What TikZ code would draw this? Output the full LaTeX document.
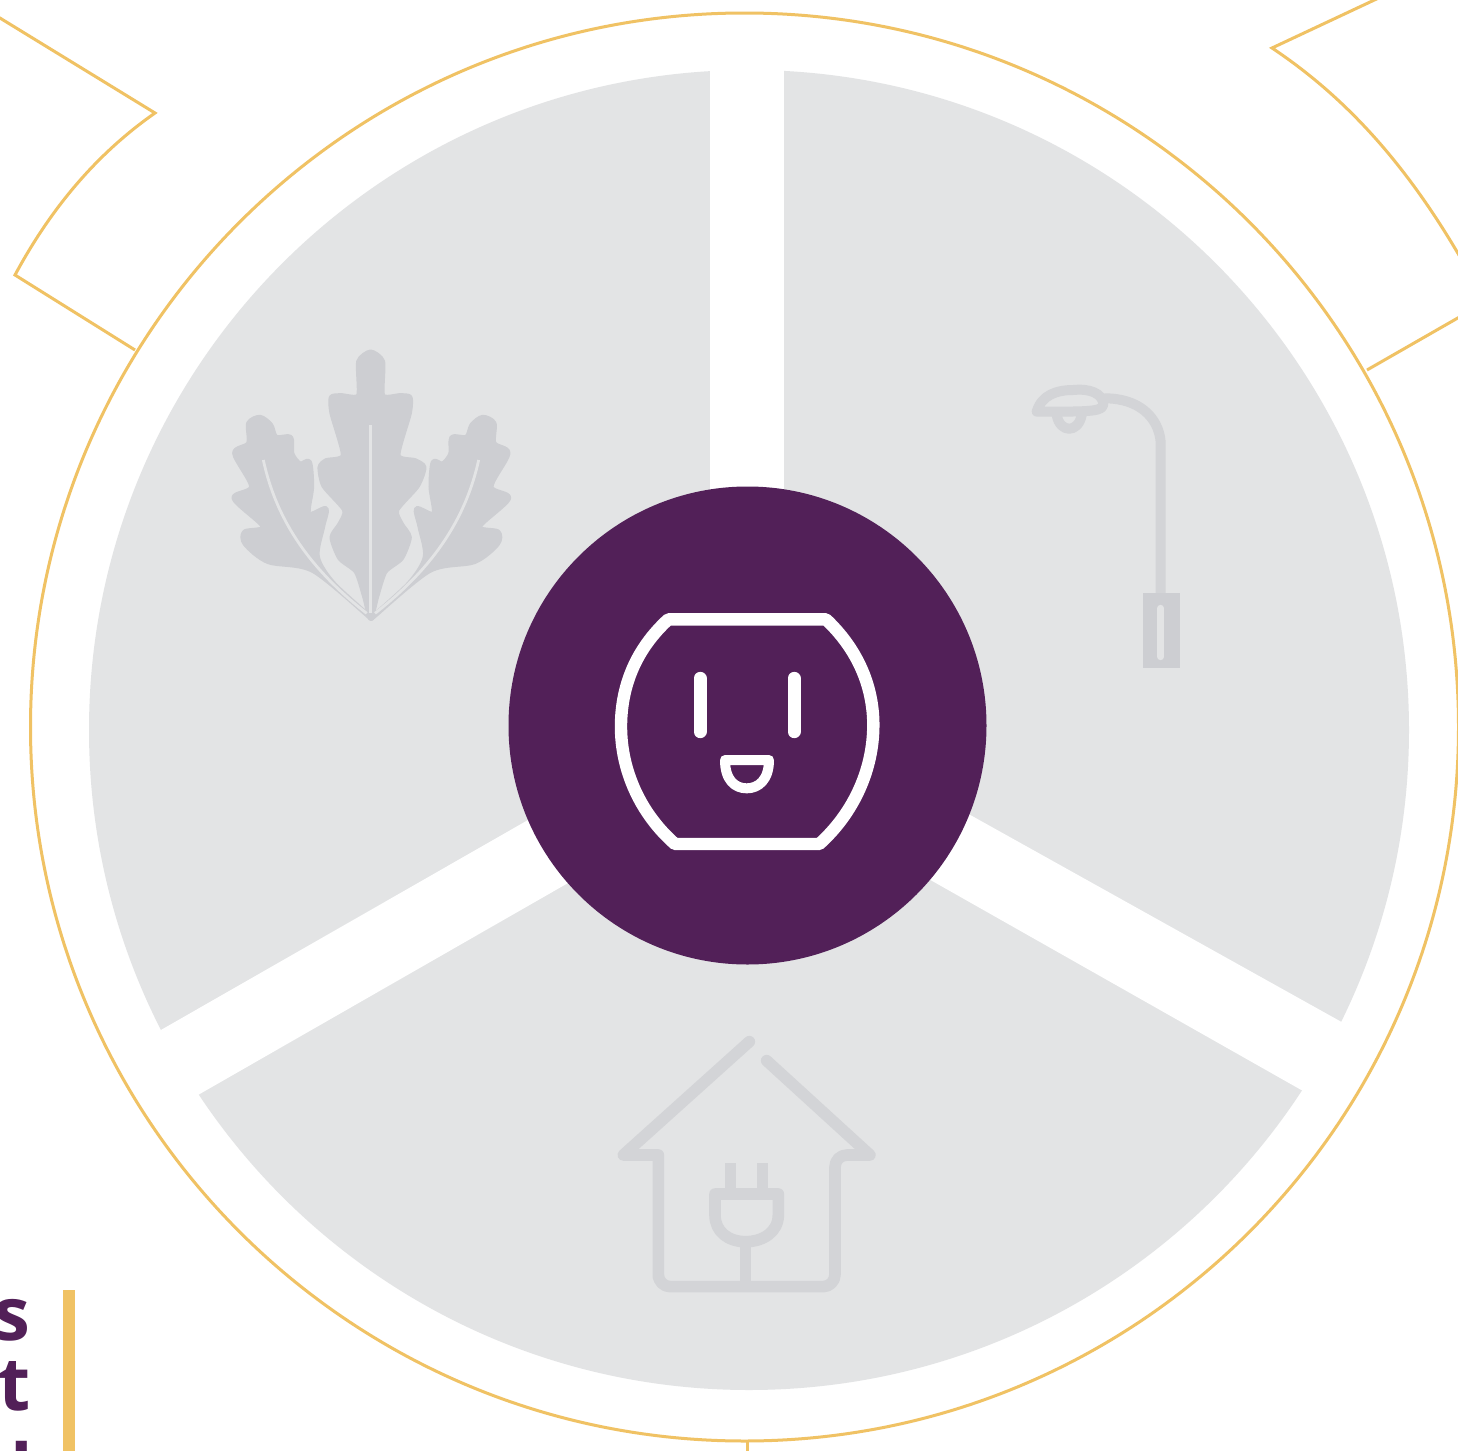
\documentclass[tikz,border=0pt]{standalone}
\usepackage{fontspec}
\setmainfont{Open Sans}
\definecolor{sectorgray}{HTML}{E3E4E5}
\definecolor{icongray}{HTML}{CDCED2}
\definecolor{housegray}{HTML}{D3D4D7}
\definecolor{hubpurple}{HTML}{522058}
\definecolor{ringgold}{HTML}{F0C264}
\tikzset{
  ring/.style={draw=ringgold,line width=1.5pt,line join=miter},
  band/.style={fill=white,draw=none},
  iconline/.style={draw=housegray,line width=5.8pt,line cap=round,line join=round},
  leafshape/.style={fill=icongray,draw=icongray,line width=2.5pt,line join=round},
  outletline/.style={draw=white,line cap=round,line join=round},
  cuttext/.style={text=hubpurple,font=\fontsize{37}{37}\selectfont\bfseries,inner sep=0pt,anchor=base east},
}
\begin{document}
\begin{tikzpicture}[x=0.5pt,y=-0.5pt]
\useasboundingbox (0,0) rectangle (1458,1451);
\fill[white] (0,0) rectangle (1458,1451);
% grey disc and white bands
\fill[sectorgray] (749,730) circle[radius=660];
\fill[band] (710,50) rectangle (784,520);
\fill[band] (56,1090) -- (95,1154) -- (596,867) -- (556,804) -- cycle;
\fill[band] (1451,1083) -- (1409,1151) -- (904,865) -- (938,797) -- cycle;
% outer ring and chevrons
\draw[ring] (744.5,727) circle[radius=714];
\draw[ring] (-5,15) -- (155,113) .. controls (95,155) and (50,210) .. (15,275) -- (135,350);
\draw[ring] (1385,-5) -- (1272,48) .. controls (1350,100) and (1410,170) .. (1463,262);
\draw[ring] (1367,370) -- (1463,315);
\draw[ring] (747,1441) -- (747,1456);
% gold bar and cut-off text
\fill[ringgold] (63,1290) rectangle (75,1456);
\node[cuttext] (lineone) at (31,1340) {s};
\node[cuttext] (linetwo) at (31,1410) {nt};
\node[cuttext] (linethree) at (33,1497) {l};
% leaf icon
\begin{scope}[shift={(200,330)},scale=1/3]
  \def\leafside{(180,262) (212,285) (228,322) (272,322) (276,372) (300,402) (328,396) (335,470) (326,552) (378,536) (368,590) (352,680) (400,760) (514,865) (340,722) (205,695) (136,642) (134,606) (190,590) (102,505) (155,470) (104,370) (146,340) (146,280)}
  \draw[leafshape] plot[smooth cycle,tension=.5] coordinates {\leafside};
  \begin{scope}[shift={(1028,0)},xscale=-1]
    \draw[leafshape] plot[smooth cycle,tension=.5] coordinates {\leafside};
  \end{scope}
  \draw[leafshape] plot[smooth cycle,tension=.4] coordinates {(512,66) (548,95) (548,197) (600,197) (630,202) (628,250) (594,376) (645,392) (672,412) (652,468) (590,540) (604,582) (628,622) (604,685) (555,725) (530,800) (512,865) (494,800) (469,725) (420,685) (396,622) (420,582) (434,540) (372,468) (360,412) (379,392) (430,376) (396,250) (394,202) (424,197) (476,197) (476,95)};
  \draw[sectorgray,line width=1.6pt] (512,285) -- (512,850);
  \draw[sectorgray,line width=1.4pt] (190,390) .. controls (235,600) and (360,740) .. (500,850);
  \draw[sectorgray,line width=1.4pt] (836,390) .. controls (790,600) and (665,740) .. (525,850);
\end{scope}
% lamp icon
\begin{scope}[shift={(1010,370)},scale=1/3]
  \draw[iconline,line width=5pt] (452,670) -- (452,215) .. controls (445,140) and (385,85) .. (285,85);
  \draw[iconline,line width=5pt] (80,125) .. controls (95,75) and (140,60) .. (190,60) .. controls (240,55) and (275,70) .. (280,100) .. controls (280,125) and (250,125) .. (80,125);
  \draw[iconline,line width=5pt] (140,135) .. controls (150,190) and (205,190) .. (215,135);
  \fill[icongray] (398,668) rectangle (510,895);
  \draw[sectorgray,line width=3.5pt,line cap=round] (452,715) -- (452,860);
\end{scope}
% house icon
\begin{scope}[shift={(600,1020)},scale=1/3]
  \draw[iconline] (448,65) -- (70,405) -- (175,405) -- (175,770) [rounded corners=6pt] -- (175,800) -- (705,800) -- (705,405) [sharp corners] -- (810,405) -- (500,122);
  \draw[iconline,line cap=butt] (392,430) -- (392,515);
  \draw[iconline,line cap=butt] (488,430) -- (488,515);
  \draw[iconline] (345,522) -- (535,522) -- (535,585) .. controls (535,635) and (490,665) .. (437,665) .. controls (385,665) and (345,635) .. (345,585) -- cycle;
  \draw[iconline,line cap=butt] (437,665) -- (437,800);
\end{scope}
% central hub
\node[circle,fill=hubpurple,draw=none,minimum size=239pt,inner sep=0pt] (hub) at (747.5,725.5) {};
\begin{scope}[shift={(590,590)},scale=1/3]
  \draw[outletline,line width=6.2pt] (235,88) -- (708,88) .. controls (800,175) and (850,285) .. (850,405) .. controls (850,540) and (790,670) .. (688,762) -- (255,762) .. controls (150,670) and (93,540) .. (93,410) .. controls (93,285) and (140,175) .. (235,88) -- cycle;
  \draw[outletline,line width=6.5pt] (330,265) -- (330,425);
  \draw[outletline,line width=6.5pt] (612,265) -- (612,425);
  \draw[outletline,line width=5pt] (405,510) -- (537,510) .. controls (537,570) and (505,595) .. (470,595) .. controls (435,595) and (405,570) .. (405,510) -- cycle;
\end{scope}
\end{tikzpicture}
\end{document}
